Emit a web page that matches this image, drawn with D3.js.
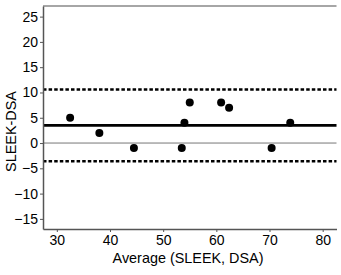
<!DOCTYPE html>
<html>
<head>
<meta charset="utf-8">
<script src="https://cdn.jsdelivr.net/npm/d3@7"></script>
<style>
	html, body { margin: 0; padding: 0; background: #fff; }
	svg text { font-family: "Liberation Sans", Arial, sans-serif; fill: #000; }
</style>
</head>
<body>
<svg id="chart-1" width="341" height="275"></svg>
<script>
// Bland-Altman data
const averages = [32.5, 38.0, 44.5, 53.5, 54.0, 55.0, 60.9, 62.4, 70.4, 73.9];
const differences = [5, 2, -1, -1, 4, 8, 8, 7, -1, 4];
const meanDiff = 3.5;
const limits = [10.6, -3.6];
const xTicks = [30, 40, 50, 60, 70, 80];
const yTicks = [-15, -10, -5, 0, 5, 10, 15, 20, 25];

const W = 341, H = 275;
const margin = {top: 6, right: 4.5, bottom: 46, left: 43};

const svg = d3.select('svg#chart-1');

const x = d3.scaleLinear()
	.domain([27.4, 82.6])
	.range([margin.left, W - margin.right]);
const y = d3.scaleLinear()
	.domain([-17, 27.1])
	.range([H - margin.bottom, margin.top]);

// top border
svg.append('line')
	.attr('x1', margin.left).attr('x2', W - margin.right)
	.attr('y1', margin.top).attr('y2', margin.top)
	.attr('stroke', '#888').attr('stroke-width', 1.5);

// zero line
svg.append('line')
	.attr('x1', margin.left).attr('x2', W - margin.right)
	.attr('y1', y(0)).attr('y2', y(0))
	.attr('stroke', '#777').attr('stroke-width', 1);

// limits of agreement
svg.selectAll('line.limit').data(limits)
	.enter().append('line')
		.attr('class', 'limit')
		.attr('x1', margin.left).attr('x2', W - margin.right)
		.attr('y1', d => y(d)).attr('y2', d => y(d))
		.attr('stroke', '#000').attr('stroke-width', 2.4)
		.attr('stroke-dasharray', '3.5,2.1');

// mean difference
svg.append('line')
	.attr('x1', margin.left).attr('x2', W - margin.right)
	.attr('y1', y(meanDiff)).attr('y2', y(meanDiff))
	.attr('stroke', '#000').attr('stroke-width', 2.6);

// axes
const xAxis = svg.append('g')
	.attr('transform', `translate(0,${H - margin.bottom})`)
	.call(d3.axisBottom(x).tickValues(xTicks).tickSize(3).tickPadding(3).tickSizeOuter(0));
const yAxis = svg.append('g')
	.attr('transform', `translate(${margin.left},0)`)
	.call(d3.axisLeft(y).tickValues(yTicks).tickSize(3).tickPadding(2).tickSizeOuter(0));

[xAxis, yAxis].forEach(a => {
	a.select('.domain').attr('stroke', '#555').attr('stroke-width', 1.5);
	a.selectAll('.tick line').attr('stroke', '#555');
	a.selectAll('.tick text')
		.attr('font-size', 14)
		.style('font-family', '"Liberation Sans", Arial, sans-serif')
		.attr('fill', '#000');
});

// points
svg.selectAll('circle').data(averages)
	.enter().append('circle')
		.attr('cx', d => x(d))
		.attr('cy', (d, i) => y(differences[i]))
		.attr('r', 4)
		.attr('fill', '#000');

// axis titles
svg.append('text')
	.attr('x', 188)
	.attr('y', 263)
	.attr('text-anchor', 'middle')
	.attr('font-size', 14.4)
	.text('Average (SLEEK, DSA)');

svg.append('text')
	.attr('transform', `translate(15.5,${(margin.top + H - margin.bottom) / 2 + 14}) rotate(-90)`)
	.attr('text-anchor', 'middle')
	.attr('font-size', 14.4)
	.text('SLEEK-DSA');
</script>
</body>
</html>
